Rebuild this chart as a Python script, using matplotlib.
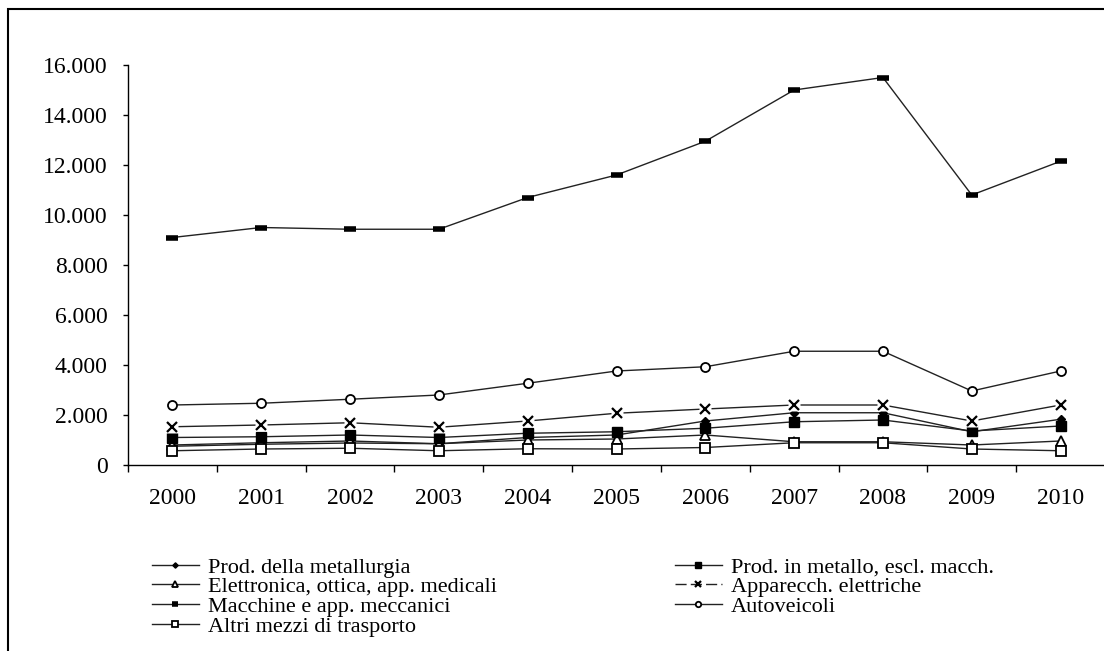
import matplotlib
matplotlib.use("Agg")
import matplotlib.pyplot as plt
from matplotlib.patches import Rectangle
from matplotlib.ticker import FuncFormatter, FixedLocator

years = ['2000', '2001', '2002', '2003', '2004', '2005', '2006', '2007', '2008', '2009', '2010']

metallurgia = [750, 830, 880, 850, 1100, 1200, 1760, 2090, 2090, 1330, 1830]
metallo = [1100, 1130, 1200, 1100, 1270, 1330, 1470, 1730, 1800, 1360, 1560]
elettronica = [800, 890, 960, 850, 1000, 1040, 1200, 930, 930, 800, 960]
apparecch = [1530, 1600, 1690, 1510, 1760, 2070, 2240, 2400, 2400, 1760, 2400]
macchine = [9100, 9500, 9430, 9430, 10700, 11600, 12950, 15000, 15500, 10800, 12150]
autoveicoli = [2400, 2470, 2630, 2800, 3270, 3760, 3930, 4550, 4550, 2960, 3760]
altri = [570, 640, 670, 570, 650, 640, 700, 890, 890, 640, 570]

labels = ['Prod. della metallurgia', 'Prod. in metallo, escl. macch.',
          'Elettronica, ottica, app. medicali', 'Apparecch. elettriche',
          'Macchine e app. meccanici', 'Autoveicoli', 'Altri mezzi di trasporto']

plt.rcParams['font.family'] = ['Liberation Serif', 'DejaVu Serif']

fig = plt.figure(figsize=(11.04, 6.51), dpi=100)
ax = fig.add_axes([128 / 1104, 1 - 465 / 651, 977 / 1104, 400 / 651])
x = list(range(len(years)))
lc = '#222222'

h_met, = ax.plot(x, metallurgia, color=lc, lw=1, marker='D', ms=4.5,
                 mfc='black', mec='black')
h_elt, = ax.plot(x, elettronica, color=lc, lw=1, marker='^', ms=6.5,
                 mfc='white', mec='black', mew=1.3)
h_mtl, = ax.plot(x, metallo, color=lc, lw=1, marker='s', ms=6.5,
                 mfc='black', mec='black')
h_alt, = ax.plot(x, altri, color=lc, lw=1, marker='s', ms=6.5,
                 mfc='white', mec='black', mew=1.3)
# line stops short of the x markers
ax.plot(x, apparecch, color=lc, lw=1)
ax.plot(x, apparecch, ls='none', marker='s', ms=9, mfc='white', mec='none')
h_app, = ax.plot([], [], color=lc, lw=1, ls=(0, (8, 3)), marker='x', ms=7,
                 mec='black', mew=1.6)
ax.plot(x, apparecch, ls='none', marker='x', ms=7, mec='black', mew=1.6)
h_mac, = ax.plot(x, macchine, color=lc, lw=1, marker='_', ms=8,
                 mec='black', mew=4)
h_aut, = ax.plot(x, autoveicoli, color=lc, lw=1, marker='o', ms=6.5,
                 mfc='white', mec='black', mew=1.3)

ax.set_xlim(-0.5, len(years) - 0.5)
ax.set_ylim(0, 16000)
ax.set_yticks(range(0, 16001, 2000))
ax.yaxis.set_major_formatter(FuncFormatter(lambda v, p: f'{int(v):,}'.replace(',', '.')))
ax.set_xticks(x)
ax.set_xticklabels(years)
ax.xaxis.set_minor_locator(FixedLocator([i - 0.5 for i in range(len(years) + 1)]))
ax.tick_params(axis='x', which='major', length=0, pad=16.5, labelsize=17)
ax.tick_params(axis='x', which='minor', length=5, width=1, direction='out')
ax.tick_params(axis='y', length=3.5, width=1, direction='out', pad=11, labelsize=17)
for s in ['top', 'right']:
    ax.spines[s].set_visible(False)
for s in ['left', 'bottom']:
    ax.spines[s].set_linewidth(1)

leg_kw = dict(frameon=False, fontsize=16, handlelength=2.1, handletextpad=0.4,
              labelspacing=-0.04, borderpad=0, borderaxespad=0, markerscale=0.6,
              loc='upper left')
fig.legend([h_met, h_elt, h_mac, h_alt],
           [labels[0], labels[2], labels[4], labels[6]],
           bbox_to_anchor=(152 / 1104, 1 - 557 / 651), **leg_kw)
fig.legend([h_mtl, h_app, h_aut],
           [labels[1], labels[3], labels[5]],
           bbox_to_anchor=(675 / 1104, 1 - 557 / 651), **leg_kw)

# outer frame, cut at the right and bottom edges
fig.add_artist(Rectangle((8 / 1104, -0.5), 2, 1.5 - 9 / 651, transform=fig.transFigure,
                         fill=False, edgecolor='black', lw=1.5, clip_on=False))

fig.savefig('out.png', dpi=100)
